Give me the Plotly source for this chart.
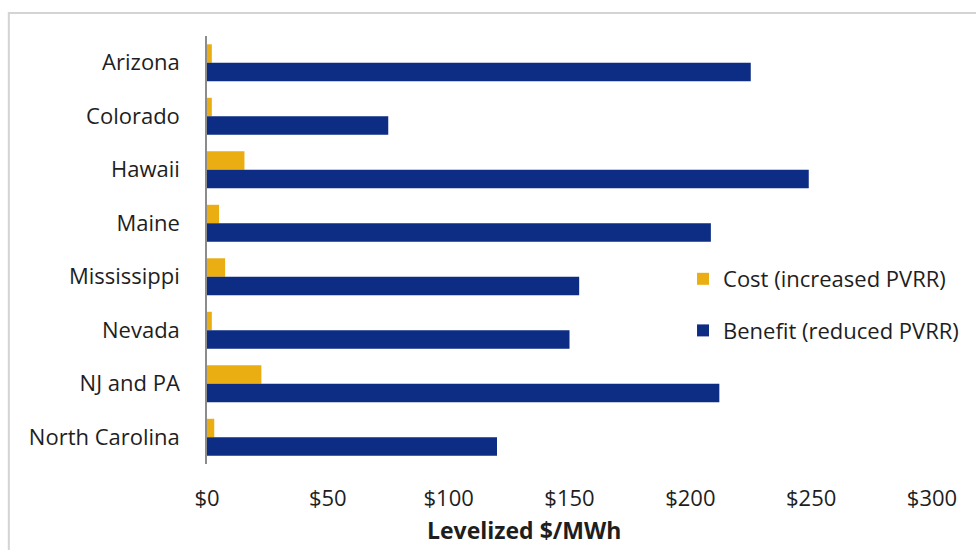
import plotly.graph_objects as go

states = ["Arizona", "Colorado", "Hawaii", "Maine", "Mississippi", "Nevada", "NJ and PA", "North Carolina"]
cost = [2, 2, 15.5, 5, 7.5, 2, 22.5, 3]
benefit = [225, 75, 249, 208.5, 154, 150, 212, 120]
x_ticks = [0, 50, 100, 150, 200, 250, 300]
x_tick_text = ["$0", "$50", "$100", "$150", "$200", "$250", "$300"]

FONT = "Open Sans"
TXT = "#1e1e1e"
FS = 22

fig = go.Figure()
fig.add_trace(go.Bar(y=states, x=cost, orientation="h", name="Cost (increased PVRR)",
                     marker=dict(color="#EAAE12", line=dict(width=0)), legendgroup="a"))
fig.add_trace(go.Bar(y=states, x=benefit, orientation="h", name="Benefit (reduced PVRR)",
                     marker=dict(color="#0C2D83", line=dict(width=0)), legendgroup="b"))

W, H = 976, 550
L, R, T, B = 207, 41, 36, 86
pw, ph = W - L - R, H - T - B

def px(x):
    return (x - L) / pw

def py(y):
    return (H - B - y) / ph

fig.update_layout(
    width=W, height=H,
    margin=dict(l=L, r=R, t=T, b=B),
    paper_bgcolor="white", plot_bgcolor="white",
    barmode="group", bargap=0.31, bargroupgap=0,
    font=dict(family=FONT, size=FS, color=TXT),
    showlegend=True,
    legend=dict(x=px(685), y=py(258), xanchor="left", yanchor="top",
                traceorder="grouped", tracegroupgap=20,
                font=dict(family=FONT, size=FS, color=TXT),
                bgcolor="rgba(0,0,0,0)"),
    xaxis=dict(range=[0, 300], tickvals=x_ticks, ticktext=x_tick_text,
               showgrid=False, zeroline=False, showline=False,
               ticks="", ticklabelstandoff=19,
               tickfont=dict(family=FONT, size=FS, color=TXT)),
    yaxis=dict(autorange="reversed", showgrid=False, zeroline=False,
               showline=True, linecolor="#8c8c8c", linewidth=1.5,
               ticks="", ticklabelstandoff=21,
               tickfont=dict(family=FONT, size=FS, color=TXT)),
    annotations=[dict(text="<b>Levelized $/MWh</b>", xref="paper", yref="paper",
                      x=px(525), y=py(530), xanchor="center", yanchor="middle",
                      showarrow=False, font=dict(family=FONT, size=23, color=TXT))],
    shapes=[dict(type="rect", xref="paper", yref="paper",
                 x0=px(8), x1=px(1000), y0=py(600), y1=py(13),
                 line=dict(color="#d4d4d4", width=2), fillcolor="rgba(0,0,0,0)",
                 layer="below")],
)

fig.write_html("out.html")
